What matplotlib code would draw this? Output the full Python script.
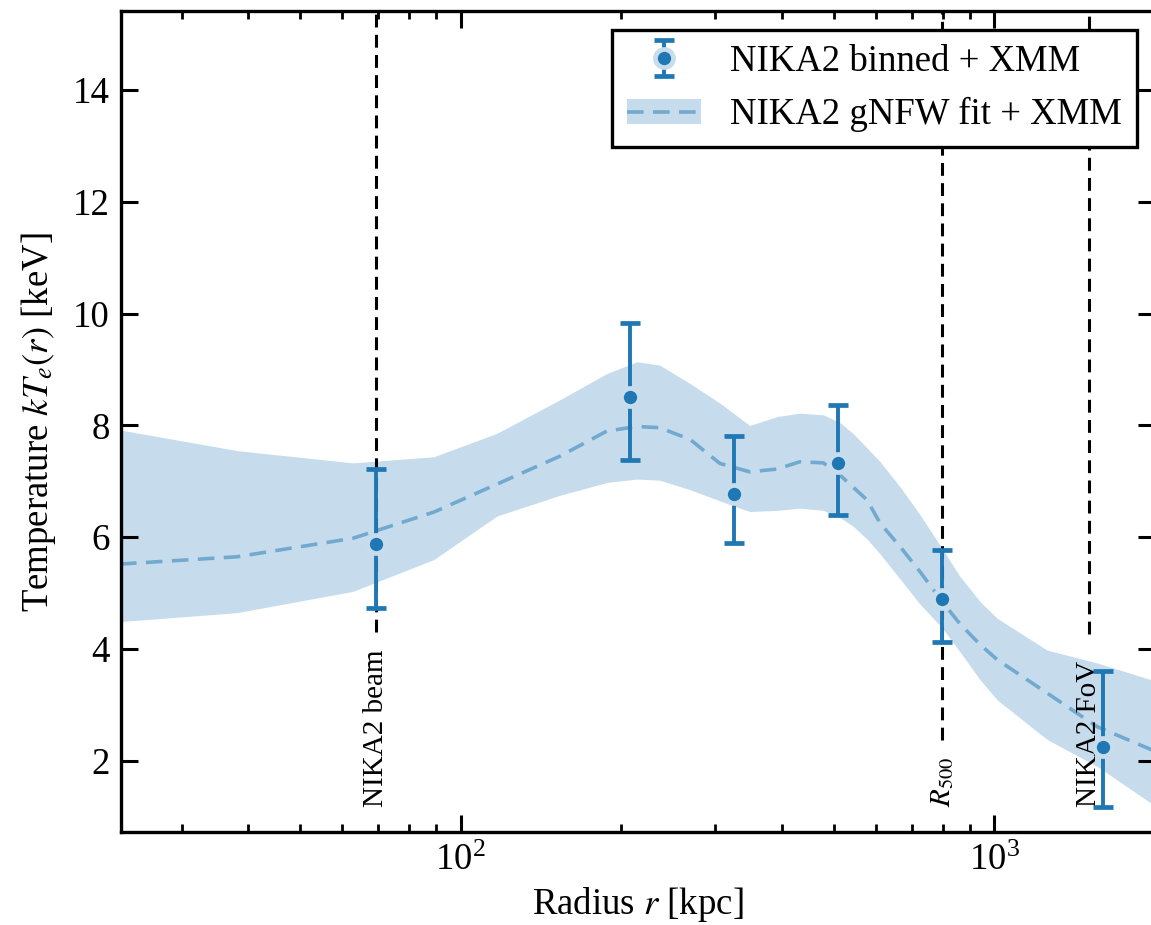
import numpy as np
import matplotlib
matplotlib.use("Agg")
import matplotlib.pyplot as plt
from matplotlib.patches import Patch
from matplotlib.lines import Line2D

plt.rcParams['font.family'] = ['Liberation Serif', 'DejaVu Serif']
plt.rcParams['mathtext.fontset'] = 'stix'
plt.rcParams['font.size'] = 26.5

# binned NIKA2 + XMM temperature points
r_bin = [69.3, 208, 325.6, 510, 798, 1596]
T_bin = [5.88, 8.50, 6.77, 7.33, 4.90, 2.25]
err_lo = [1.15, 1.12, 0.87, 0.93, 0.77, 1.08]
err_hi = [1.34, 1.34, 1.04, 1.03, 0.87, 1.36]

# gNFW fit: median and 68% band
r_fit = [23.0, 38.1, 62.8, 89.1, 117, 153.5, 188, 214, 236, 269, 306, 348,
         392, 432, 478, 514, 543, 577, 611, 666, 726, 798, 862, 940, 1012,
         1256, 1558, 1967, 2000]
T_fit = [5.52, 5.65, 5.98, 6.45, 6.95, 7.45, 7.90, 7.98, 7.96, 7.75, 7.32, 7.17,
         7.22, 7.35, 7.33, 7.11, 6.90, 6.67, 6.25, 5.83, 5.38, 4.85, 4.45, 4.08,
         3.81, 3.21, 2.61, 2.20, 2.17]
T_fit_hi = [7.92, 7.55, 7.33, 7.44, 7.86, 8.46, 8.93, 9.14, 9.08, 8.75, 8.40, 8.00,
            8.16, 8.22, 8.19, 8.05, 7.86, 7.60, 7.35, 6.90, 6.40, 5.80, 5.30,
            4.85, 4.55, 3.98, 3.75, 3.45, 3.43]
T_fit_lo = [4.49, 4.65, 5.03, 5.60, 6.38, 6.75, 6.98, 7.04, 7.02, 6.85, 6.65, 6.46,
            6.48, 6.52, 6.48, 6.35, 6.20, 5.97, 5.70, 5.25, 4.80, 4.38, 3.95,
            3.45, 3.09, 2.38, 1.90, 1.24, 1.20]

# reference radii
r_marks = [69.3, 799, 1505]
mark_labels = ['NIKA2 beam', '$R_{500}$', 'NIKA2 FoV']
mark_ymin = [0.244, 0.112, 0.242]

band_rgb = (0.78, 0.867, 0.925)

fig = plt.figure(figsize=(11.51, 9.25), dpi=100)
ax = fig.add_axes([0.1051, 0.1002, 0.8984, 0.8876])

ax.fill_between(r_fit, T_fit_lo, T_fit_hi, color='C0', alpha=0.25, lw=0)
ax.plot(r_fit, T_fit, color='C0', alpha=0.5, lw=2.6, dashes=(4.6, 2.6))

for xm, lab, ym in zip(r_marks, mark_labels, mark_ymin):
    ax.axvline(xm, ymin=ym, ymax=1, color='k', lw=2.2, dashes=(4.2, 2.4))
    ax.text(xm, 0.031, lab, rotation=90, ha='center', va='bottom',
            fontsize=21, transform=ax.get_xaxis_transform())

eb = ax.errorbar(r_bin, T_bin, yerr=[err_lo, err_hi], fmt='o', color='C0',
                 ms=13, mec=band_rgb, mew=3.4, elinewidth=2.8, capsize=7,
                 capthick=2.8, zorder=5)

ax.set_xscale('log')
ax.set_xlim(23.1, 2000)
ax.set_ylim(0.72, 15.41)
ax.set_yticks([2, 4, 6, 8, 10, 12, 14])

ax.set_xlabel('Radius $r$ [kpc]', labelpad=5)
ax.set_ylabel('Temperature $kT_e(r)$ [keV]', labelpad=10.5)

ax.tick_params(which='both', direction='in', top=True, right=True)
ax.tick_params(which='major', length=12.5, width=2.2, pad=8)
ax.tick_params(which='minor', length=5.5, width=2)
for s in ax.spines.values():
    s.set_linewidth(2.4)

fit_handle = (Patch(color='C0', alpha=0.25, lw=0),
              Line2D([], [], color='C0', alpha=0.5, lw=2.6, dashes=(4.6, 2.6)))
leg = ax.legend([eb, fit_handle], ['NIKA2 binned + XMM', 'NIKA2 gNFW fit + XMM'],
                loc='upper right', fancybox=False, framealpha=1,
                edgecolor='k', fontsize=26.5, handlelength=2.0)
leg.get_frame().set_linewidth(2.4)

fig.savefig('out.png', dpi=100)
